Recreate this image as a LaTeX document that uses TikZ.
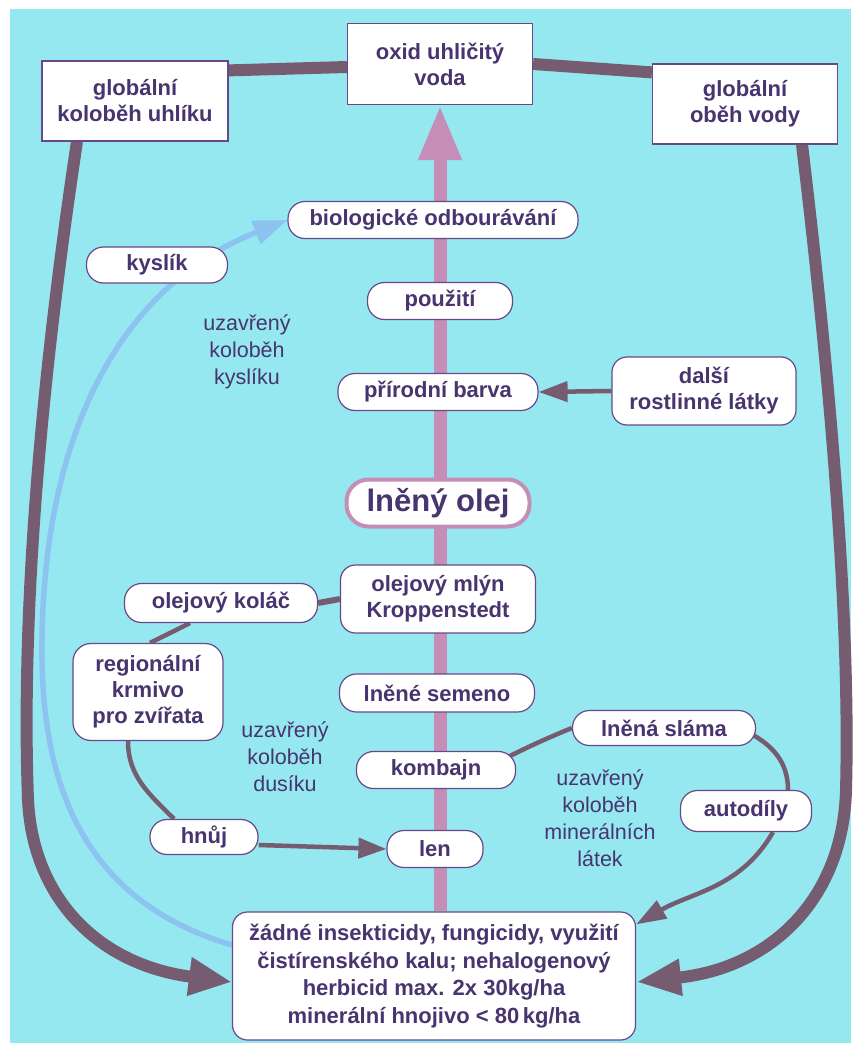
\documentclass[tikz,border=0pt]{standalone}
\usepackage{fontspec}
\setmainfont{Liberation Sans}
\usepackage{tikz}
\usetikzlibrary{arrows.meta,positioning,calc,backgrounds}
\usepackage{xcolor}
\definecolor{bgcyan}{RGB}{150,232,240}
\definecolor{inkc}{RGB}{72,52,110}
\definecolor{framec}{RGB}{105,72,135}
\definecolor{cyclec}{RGB}{118,92,112}
\definecolor{flowc}{RGB}{196,142,182}
\definecolor{oxyc}{RGB}{140,195,240}

\begin{document}
\begin{tikzpicture}[x=1pt,y=-1pt,
  every node/.style={text=inkc,align=center,inner sep=0pt,font=\bfseries\fontsize{22}{26}\selectfont},
  boxnode/.style={draw=framec,line width=1.2pt,fill=white},
  pill/.style={boxnode,rounded corners=17pt,minimum height=37pt},
  card/.style={boxnode,rounded corners=15pt},
  note/.style={font=\fontsize{21.5}{27}\selectfont},
  gline/.style={color=cyclec,line width=12pt},
  tline/.style={color=cyclec,line width=4.5pt},
  flowline/.style={color=flowc,line width=13pt},
  oline/.style={color=oxyc,line width=5.5pt}]
   \useasboundingbox (0,0) rectangle (853,1043);

   \node[boxnode,minimum width=185pt,minimum height=81pt] (oxid) at (440,64) {oxid uhličitý\\voda};
   \node[boxnode,minimum width=186pt,minimum height=80pt] (uhlik) at (135,101) {globální\\koloběh uhlíku};
   \node[boxnode,minimum width=185pt,minimum height=80pt] (voda) at (745,104) {globální\\oběh vody};

   \node[pill,minimum width=290pt] (bio) at (433,220) {biologické odbourávání};
   \node[pill,minimum width=145pt] (pouziti) at (440,301) {použití};
   \node[pill,minimum width=200pt] (barva) at (438,392) {přírodní barva};
   \node[pill,minimum width=183pt,minimum height=47pt,draw=flowc,line width=4pt,rounded corners=22pt,
         font=\bfseries\fontsize{31}{36}\selectfont] (olej) at (438,503) {lněný olej};
   \node[card,minimum width=195pt,minimum height=68pt] (mlyn) at (438,599) {olejový mlýn\\Kroppenstedt};
   \node[pill,minimum width=195pt,minimum height=38pt] (semeno) at (437,693) {lněné semeno};
   \node[pill,minimum width=159pt] (kombajn) at (436,770) {kombajn};
   \node[pill,minimum width=96pt] (len) at (435,849) {len};
   \node[card,minimum width=403pt,minimum height=128pt,font=\bfseries\fontsize{22}{27.7}\selectfont] (pole) at (434,976)
        {žádné insekticidy, fungicidy, využití\\čistírenského kalu; nehalogenový\\herbicid max. 2x 30kg/ha\\minerální hnojivo < 80\,kg/ha};

   \node[pill,minimum width=141pt,minimum height=36pt] (kyslik) at (157,265) {kyslík};
   \node[note] (okyslik) at (247,352) {uzavřený\\koloběh\\kyslíku};
   \node[pill,minimum width=193pt,minimum height=39pt] (kolac) at (221,603) {olejový koláč};
   \node[card,rounded corners=18pt,minimum width=150pt,minimum height=97pt] (krmivo) at (148,692) {regionální\\krmivo\\pro zvířata};
   \node[note] (odusik) at (285,757) {uzavřený\\koloběh\\dusíku};
   \node[pill,minimum width=108pt,minimum height=35pt] (hnuj) at (204,837) {hnůj};

   \node[card,minimum width=184pt,minimum height=68pt] (dalsi) at (704,391) {další\\rostlinné látky};
   \node[pill,minimum width=183pt,minimum height=35pt] (slama) at (664,728) {lněná sláma};
   \node[note] (omineral) at (600,818) {uzavřený\\koloběh\\minerálních\\látek};
   \node[pill,minimum width=131pt,minimum height=41pt] (autodily) at (746,811) {autodíly};

   \begin{scope}[on background layer]
   \fill[white] (0,0) rectangle (853,1043);
   \fill[bgcyan] (10,9) rectangle (851,1043);

   \draw[gline] ([yshift=-10pt]uhlik.north east) -- ([yshift=-3pt]oxid.west);
   \draw[gline] (oxid.east) -- ([yshift=-9pt]voda.north west);
   \draw[gline,-{Triangle[length=43pt,width=36pt]}] ([xshift=-58pt]uhlik.south)
      .. controls (35,420) and (22,640) .. (28,800)
      .. controls (33,900) and (100,965) .. ([yshift=-6pt]pole.west);
   \draw[gline,-{Triangle[length=45pt,width=34pt]}] ([xshift=57pt]voda.south)
      .. controls (835,420) and (850,640) .. (846,790)
      .. controls (843,900) and (770,968) .. ([yshift=-6pt]pole.east);

   \draw[oline,-{Triangle[length=34pt,width=24pt]}] ([yshift=31pt]pole.west)
      .. controls (80,900) and (40,780) .. (42,640)
      .. controls (44,450) and (110,290) .. (bio.west);

   \draw[flowline,-{Triangle[length=55pt,width=40pt]}] (oxid.south |- pole.north) -- (oxid.south);

   \path[tline]
    (dalsi.west) edge[-{Triangle[length=29pt,width=20pt]}] (barva.east)
    (kolac.east) edge[line width=6pt] (mlyn.west)
    ([xshift=-31pt]kolac.south) edge ([xshift=2pt]krmivo.north)
    ([xshift=-20pt]krmivo.south) edge[out=-90,in=135] ([xshift=-30pt]hnuj.north)
    ([yshift=-8pt]hnuj.east) edge[-{Triangle[length=28pt,width=20pt]}] (len.west)
    ([shift={(-8pt,-6pt)}]kombajn.north east) edge[bend left=2] (slama.west)
    ([shift={(-3pt,-7pt)}]slama.east) edge[out=-30,in=90] ([xshift=42pt]autodily.north)
    ([xshift=27pt]autodily.south) edge[out=-120,in=30,-{Triangle[length=30pt,width=20pt]}] ([yshift=-13pt]pole.north east);
   \end{scope}
\end{tikzpicture}
\end{document}
